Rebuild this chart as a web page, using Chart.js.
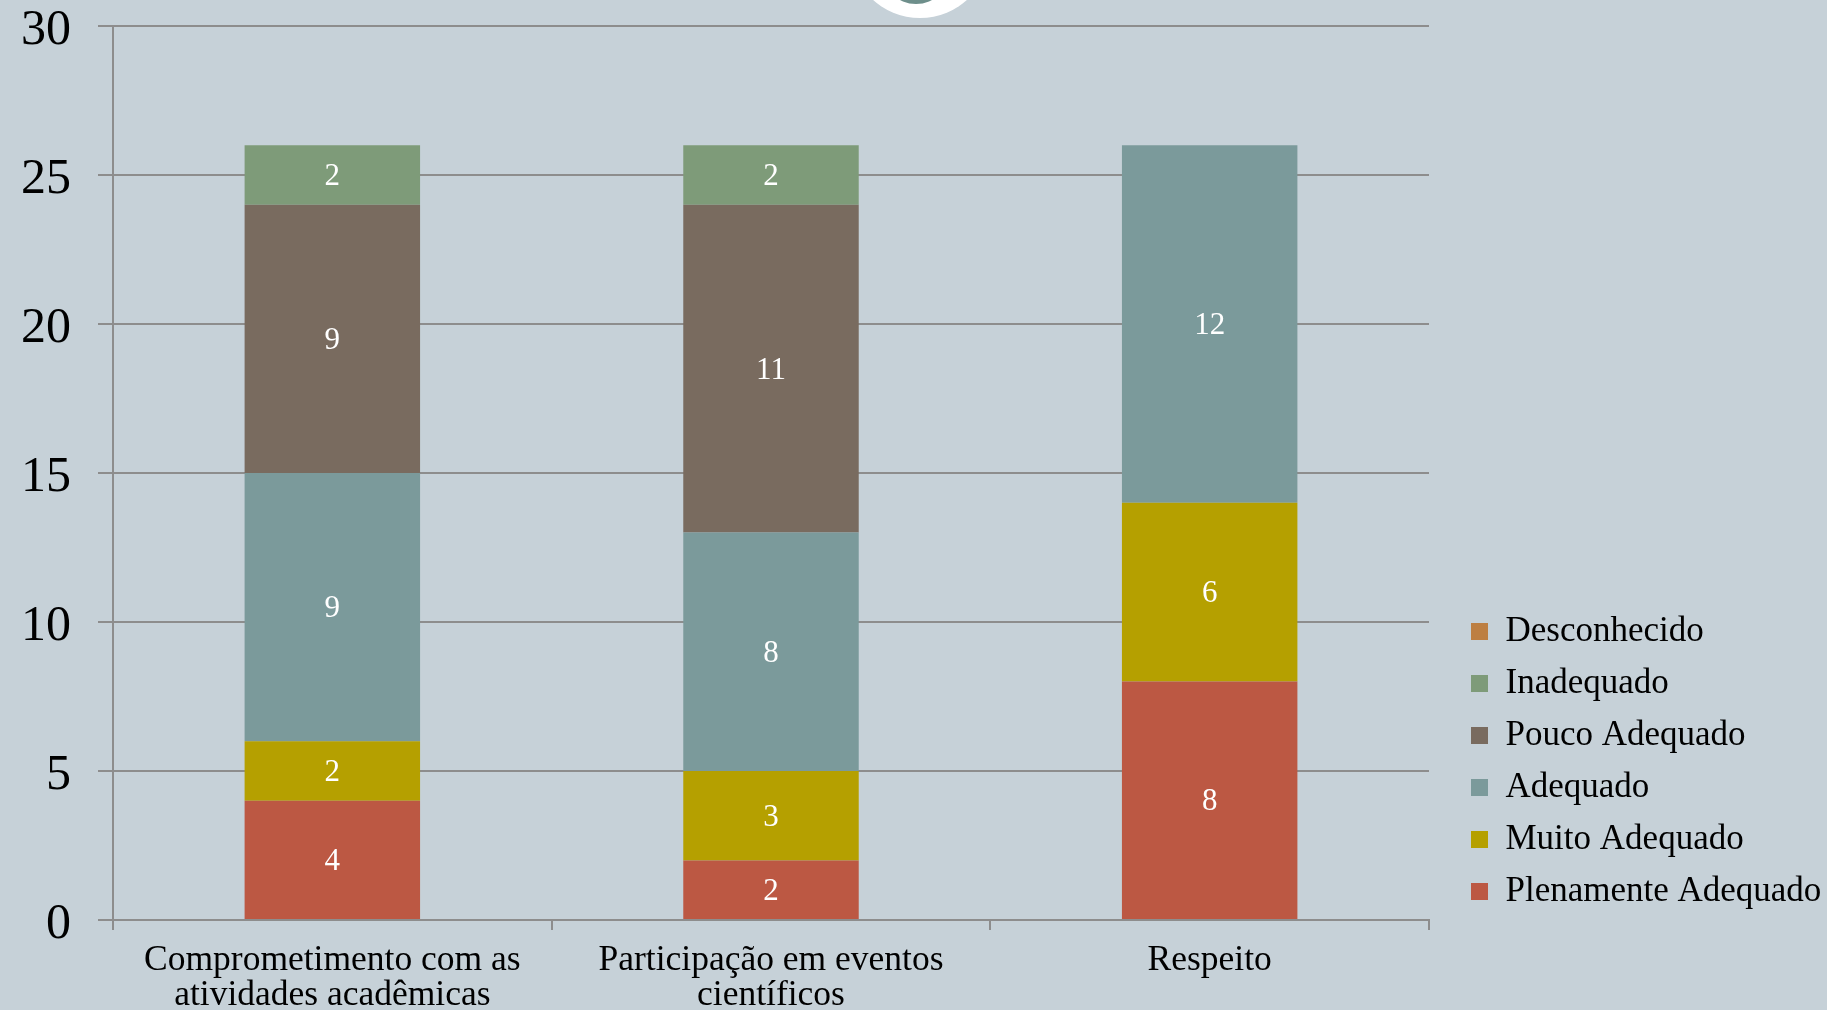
<!DOCTYPE html>
<html>
<head>
<meta charset="utf-8">
<title>Avaliação</title>
<script src="https://cdn.jsdelivr.net/npm/chart.js@4.4.1/dist/chart.umd.min.js"></script>
<style>
  html, body { margin: 0; padding: 0; background: #c6d1d8; overflow: hidden; }
  #wrap { position: relative; width: 1827px; height: 1010px; }
  .disco { position: absolute; border-radius: 50%; }
</style>
</head>
<body>
<div id="wrap">
  <div class="disco" style="left:850px; top:-122px; width:140px; height:140px; background:#fff;"></div>
  <div class="disco" style="left:882px; top:-64px; width:68px; height:68px; background:#6e8f8b;"></div>
  <canvas id="chartBar"></canvas>
</div>
<script>
const categorias = [
  ["Comprometimento com as", "atividades acadêmicas"],
  ["Participação em eventos", "científicos"],
  "Respeito"
];
const plenamenteAdequado = [4, 2, 8];
const muitoAdequado = [2, 3, 6];
const adequado = [9, 8, 12];
const poucoAdequado = [9, 11, 0];
const inadequado = [2, 2, 0];
const desconhecido = [0, 0, 0];

const fonte = "'Liberation Serif', 'Times New Roman', serif";
const corGrade = "#8d8d8d";

// numeros brancos no meio de cada bloco
const rotulos = {
  id: "rotulos",
  afterDatasetsDraw(chart) {
    const ctx = chart.ctx;
    ctx.save();
    ctx.font = "31px " + fonte;
    ctx.fillStyle = "#ffffff";
    ctx.textAlign = "center";
    ctx.textBaseline = "middle";
    chart.data.datasets.forEach((ds, i) => {
      chart.getDatasetMeta(i).data.forEach((bar, j) => {
        const v = ds.data[j];
        if (!v) return;
        ctx.fillText(v, bar.x, (bar.y + bar.base) / 2 + 2);
      });
    });
    ctx.restore();
  }
};

// afasta a legenda da area do grafico e a sobe um pouco
const ajusteLegenda = {
  id: "ajusteLegenda",
  afterLayout(chart) {
    const lg = chart.legend;
    const dx = chart.chartArea.right + 42 - (lg.left + lg.options.labels.padding);
    lg.left += dx;
    lg.right += dx;
    lg.bottom = chart.chartArea.bottom + 6;
  }
};

const ctxBar = document.getElementById("chartBar").getContext("2d");

const grafico = new Chart(ctxBar, {
  type: "bar",
  data: {
    labels: categorias,
    datasets: [
      { label: "Plenamente Adequado", data: plenamenteAdequado, backgroundColor: "#bc5843" },
      { label: "Muito Adequado", data: muitoAdequado, backgroundColor: "#b5a000" },
      { label: "Adequado", data: adequado, backgroundColor: "#7b9a9b" },
      { label: "Pouco Adequado", data: poucoAdequado, backgroundColor: "#796b5f" },
      { label: "Inadequado", data: inadequado, backgroundColor: "#7e9b79" },
      { label: "Desconhecido", data: desconhecido, backgroundColor: "#bd7f42" }
    ]
  },
  options: {
    responsive: true,
    maintainAspectRatio: false,
    animation: false,
    borderWidth: 0,
    barPercentage: 0.4,
    categoryPercentage: 1,
    layout: { padding: { top: 26, left: 0, right: 0, bottom: 0 } },
    plugins: {
      tooltip: { enabled: false },
      legend: {
        position: "right",
        align: "end",
        reverse: true,
        labels: {
          boxWidth: 17,
          boxHeight: 17,
          padding: 17,
          color: "#000",
          font: { family: fonte, size: 35 }
        }
      }
    },
    scales: {
      x: {
        stacked: true,
        afterFit(s) { s.height = 90; },
        grid: { color: corGrade, lineWidth: 2, drawOnChartArea: false, tickLength: 10 },
        border: { color: corGrade, width: 2 },
        ticks: {
          color: "#000",
          padding: 13,
          maxRotation: 0,
          font: { family: fonte, size: 35.5, lineHeight: "35px" }
        }
      },
      y: {
        stacked: true,
        min: 0,
        max: 30,
        afterFit(s) {
          s.width = 113;
          s.paddingTop = 0;
          s.paddingBottom = 0;
        },
        grid: { color: corGrade, lineWidth: 2, tickLength: 15 },
        border: { color: corGrade, width: 2 },
        ticks: {
          stepSize: 5,
          color: "#000",
          padding: 27,
          labelOffset: 5,
          font: { family: fonte, size: 50 }
        }
      }
    }
  },
  plugins: [rotulos, ajusteLegenda]
});

// deixa a area do grafico terminar onde termina no original
const sobra = grafico.chartArea.right - 1429;
grafico.options.layout.padding = { top: 26, left: 0, right: sobra, bottom: 0 };
grafico.update("none");
</script>
</body>
</html>
